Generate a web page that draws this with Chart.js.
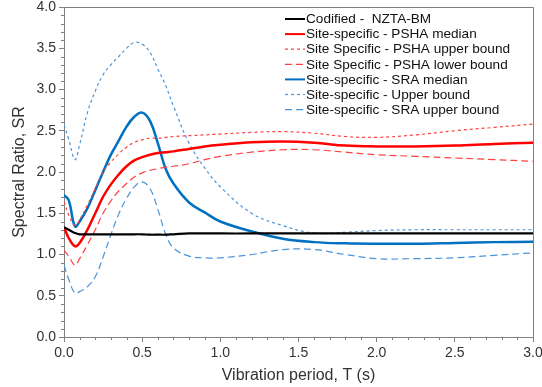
<!DOCTYPE html>
<html lang="en">
<head>
  <meta charset="UTF-8">
  <title>Spectral Ratio</title>
  <script src="https://cdn.jsdelivr.net/npm/chart.js"></script>
  <style>
    body {
      margin: 0;
      padding: 0;
      background: #fff;
    }
    #wrap {
      width: 542px;
      height: 387px;
    }
  </style>
</head>
<body>
  <div id="wrap"><canvas id="srChart" width="542" height="387"></canvas></div>

  <script>
    // vibration period T (s)
    const period = [0, 0.03, 0.07, 0.1, 0.15, 0.2, 0.25, 0.3, 0.35, 0.4, 0.45, 0.5, 0.55, 0.6, 0.65, 0.7, 0.8, 0.9, 1.0, 1.2, 1.4, 1.6, 1.8, 2.0, 2.25, 2.5, 2.75, 3.0];

    const codified = [1.33, 1.30, 1.26, 1.245, 1.245, 1.245, 1.245, 1.245, 1.245, 1.245, 1.245, 1.245, 1.24, 1.24, 1.24, 1.245, 1.255, 1.257, 1.255, 1.255, 1.255, 1.255, 1.255, 1.255, 1.255, 1.255, 1.255, 1.255];
    const pshaMedian = [1.33, 1.20, 1.10, 1.14, 1.30, 1.50, 1.70, 1.85, 1.97, 2.07, 2.14, 2.18, 2.21, 2.23, 2.24, 2.25, 2.28, 2.31, 2.33, 2.36, 2.37, 2.355, 2.32, 2.31, 2.31, 2.32, 2.34, 2.355];
    const pshaUpper = [1.64, 1.48, 1.35, 1.42, 1.60, 1.80, 2.00, 2.12, 2.22, 2.30, 2.36, 2.39, 2.41, 2.41, 2.42, 2.43, 2.44, 2.45, 2.46, 2.48, 2.49, 2.47, 2.43, 2.42, 2.45, 2.50, 2.54, 2.58];
    const pshaLower = [1.05, 0.98, 0.87, 0.95, 1.12, 1.30, 1.50, 1.65, 1.77, 1.86, 1.94, 1.99, 2.02, 2.04, 2.06, 2.07, 2.10, 2.15, 2.19, 2.24, 2.27, 2.27, 2.24, 2.21, 2.19, 2.17, 2.15, 2.13];
    const sraMedian = [1.72, 1.66, 1.34, 1.40, 1.56, 1.78, 2.00, 2.21, 2.38, 2.55, 2.67, 2.72, 2.62, 2.35, 2.04, 1.86, 1.63, 1.51, 1.40, 1.28, 1.19, 1.15, 1.135, 1.13, 1.13, 1.14, 1.15, 1.155];
    const sraUpper = [2.57, 2.40, 2.15, 2.33, 2.72, 2.98, 3.18, 3.30, 3.40, 3.50, 3.57, 3.55, 3.45, 3.25, 3.05, 2.80, 2.35, 2.05, 1.82, 1.50, 1.35, 1.26, 1.27, 1.29, 1.30, 1.30, 1.30, 1.30];
    const sraLower = [0.87, 0.70, 0.53, 0.55, 0.61, 0.73, 0.97, 1.24, 1.49, 1.68, 1.82, 1.88, 1.80, 1.55, 1.25, 1.08, 0.98, 0.96, 0.96, 1.00, 1.06, 1.06, 1.00, 0.95, 0.95, 0.96, 0.99, 1.02];

    const xTicks = [0, 0.5, 1.0, 1.5, 2.0, 2.5, 3.0];
    const yTicks = [0, 0.5, 1.0, 1.5, 2.0, 2.5, 3.0, 3.5, 4.0];

    const toPoints = vals => vals.map((v, i) => ({ x: period[i], y: v }));

    function series(label, vals, color, width, dash) {
      return {
        label,
        data: toPoints(vals),
        borderColor: color,
        backgroundColor: color,
        borderWidth: width,
        borderDash: dash,
        pointRadius: 0,
        fill: false,
        tension: 0.4
      };
    }

    const axisColor = '#808080';
    const textColor = '#333333';
    const fontFamily = '"Liberation Sans", Arial, sans-serif';

    // minor ticks, plot frame and the inside legend
    const decorPlugin = {
      id: 'decor',
      afterDraw(chart) {
        const c = chart.ctx;
        const a = chart.chartArea;
        const xs = chart.scales.x;
        const ys = chart.scales.y;
        c.save();
        c.strokeStyle = axisColor;
        c.lineWidth = 1;
        c.beginPath();
        for (let i = 1; i < 30; i++) {
          if (i % 5 === 0) continue;
          const px = Math.round(xs.getPixelForValue(i / 10)) + 0.5;
          c.moveTo(px, a.bottom);
          c.lineTo(px, a.bottom + 3);
        }
        for (let i = 1; i < 40; i++) {
          if (i % 5 === 0) continue;
          const py = Math.round(ys.getPixelForValue(i / 10)) + 0.5;
          c.moveTo(a.left - 3, py);
          c.lineTo(a.left, py);
        }
        // top and right frame
        c.moveTo(a.left, a.top + 0.5);
        c.lineTo(a.right + 0.5, a.top + 0.5);
        c.lineTo(a.right + 0.5, a.bottom);
        c.stroke();

        // legend
        c.font = '13.6px ' + fontFamily;
        c.textBaseline = 'middle';
        c.fillStyle = '#111';
        chart.data.datasets.forEach((ds, i) => {
          const y = 19 + i * 15.1;
          c.beginPath();
          c.strokeStyle = ds.borderColor;
          c.lineWidth = Math.min(ds.borderWidth, 2);
          c.setLineDash(ds.borderDash || []);
          c.moveTo(285, y);
          c.lineTo(305, y);
          c.stroke();
          c.setLineDash([]);
          c.fillText(ds.label, 306, y + 0.5);
        });
        c.restore();
      }
    };

    new Chart(document.getElementById('srChart'), {
      type: 'line',
      data: {
        datasets: [
          series('Codified -  NZTA-BM', codified, '#000000', 2.2, []),
          series('Site-specific - PSHA median', pshaMedian, '#ff0000', 2.5, []),
          series('Site Specific - PSHA upper bound', pshaUpper, '#ff4040', 1.2, [3, 3]),
          series('Site Specific - PSHA lower bound', pshaLower, '#ff4040', 1.2, [7, 4]),
          series('Site-specific - SRA median', sraMedian, '#0070c0', 2.5, []),
          series('Site-specific - Upper bound', sraUpper, '#4a94d8', 1.2, [3, 3]),
          series('Site-specific - SRA upper bound', sraLower, '#4a94d8', 1.2, [7, 4])
        ]
      },
      options: {
        responsive: false,
        animation: false,
        layout: { padding: { top: 7, right: 9, bottom: 0, left: 0 } },
        plugins: {
          legend: { display: false },
          tooltip: { enabled: false }
        },
        scales: {
          x: {
            type: 'linear',
            min: 0,
            max: 3,
            afterBuildTicks: s => { s.ticks = xTicks.map(v => ({ value: v })); },
            afterFit: s => { s.height = 50; s.paddingLeft = 0; s.paddingRight = 0; },
            ticks: {
              color: textColor,
              padding: 3,
              font: { size: 14, family: fontFamily },
              callback: v => Number(v).toFixed(1)
            },
            grid: { drawOnChartArea: false, tickLength: 5, color: axisColor },
            border: { color: axisColor },
            title: {
              display: true,
              text: 'Vibration period, T (s)',
              color: textColor,
              font: { size: 16, family: fontFamily },
              padding: { top: 0, bottom: 2 }
            }
          },
          y: {
            min: 0,
            max: 4,
            afterBuildTicks: s => { s.ticks = yTicks.map(v => ({ value: v })); },
            afterFit: s => { s.width = 64; s.paddingTop = 0; s.paddingBottom = 0; },
            ticks: {
              color: textColor,
              padding: 3,
              font: { size: 14, family: fontFamily },
              callback: v => Number(v).toFixed(1)
            },
            grid: { drawOnChartArea: false, tickLength: 5, color: axisColor },
            border: { color: axisColor },
            title: {
              display: true,
              text: 'Spectral Ratio, SR',
              color: textColor,
              font: { size: 16, family: fontFamily },
              padding: { top: 10, bottom: 0 }
            }
          }
        }
      },
      plugins: [decorPlugin]
    });
  </script>
</body>
</html>
